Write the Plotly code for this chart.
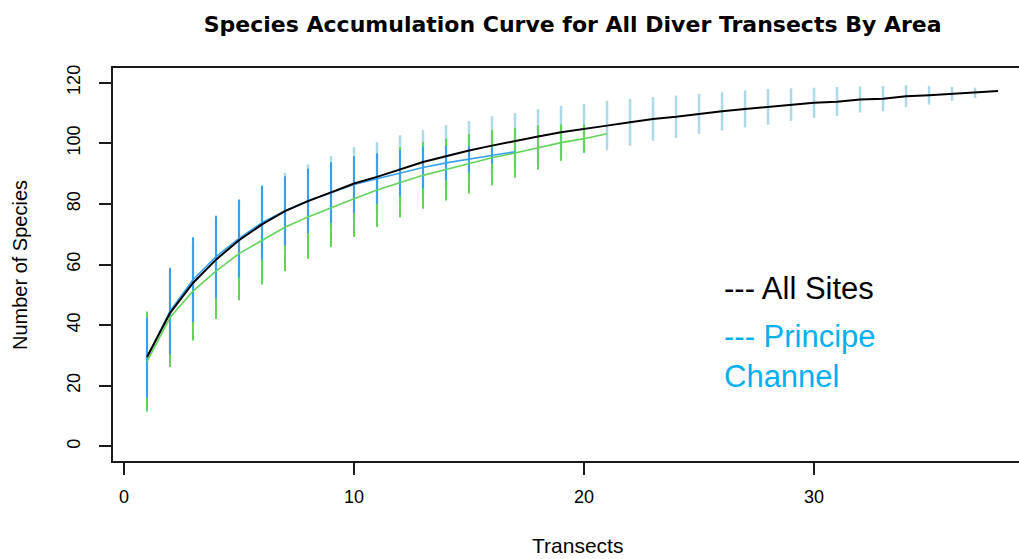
import plotly.graph_objects as go

# Species accumulation: mean species count and confidence half-width per number of transects
all_x = list(range(1, 39))
all_mean = [29.5, 44.0, 53.9, 61.6, 68.0, 73.2, 77.6, 80.9, 83.8, 86.7, 88.9, 91.4,
            93.8, 95.7, 97.6, 99.2, 100.8, 102.2, 103.6, 104.8, 105.8, 106.9, 108.0,
            108.7, 109.7, 110.5, 111.3, 112.0, 112.7, 113.3, 113.7, 114.4, 114.7,
            115.5, 115.8, 116.3, 116.6, 117.2]
all_ci = [12.5, 13.5, 13.5, 13.5, 13.0, 12.6, 12.6, 12.1, 11.9, 12.0, 11.4, 11.2,
          10.5, 10.3, 9.7, 9.7, 9.1, 9.0, 8.7, 8.1, 8.1, 7.7, 7.2, 7.0, 6.6, 6.3,
          6.1, 5.9, 5.4, 5.0, 4.8, 4.3, 4.2, 3.6, 3.1, 2.3, 1.7, 0.0]

green_x = list(range(1, 22))
green_mean = [28.0, 42.5, 51.2, 57.8, 63.6, 68.0, 72.3, 75.7, 78.8, 81.7, 84.6, 87.1,
              89.4, 91.3, 93.2, 95.2, 96.8, 98.6, 100.2, 101.5, 103.1]
green_ci = [16.5, 16.3, 16.3, 15.8, 15.4, 14.6, 14.5, 13.9, 13.0, 12.6, 12.2, 11.6,
            11.0, 10.2, 9.8, 9.1, 8.2, 7.3, 6.0, 4.6, 0.0]

blue_x = list(range(1, 18))
blue_mean = [29.2, 44.6, 55.0, 62.6, 68.6, 73.8, 77.7, 81.0, 83.7, 86.4, 88.3, 90.2,
             92.0, 93.5, 94.7, 95.9, 97.2]
blue_ci = [13.2, 14.3, 14.0, 13.5, 12.8, 12.2, 11.4, 10.6, 10.0, 9.3, 8.3, 7.5, 6.9,
           5.6, 4.3, 2.6, 0.0]

x_ticks = [0, 10, 20, 30]
y_ticks = [0, 20, 40, 60, 80, 100, 120]

LIGHTBLUE = "#ADD8E6"
GREEN = "#62D45A"
BLUE = "#3AA0EE"
FONT = "Liberation Sans, Arial, sans-serif"
TITLE_FONT = "DejaVu Sans, " + FONT

fig = go.Figure()


def ci_bars(x, mean, ci, color, thickness):
    # vertical interval bars only, no visible markers
    return go.Scatter(
        x=x, y=mean, mode="markers",
        marker=dict(size=1, color="rgba(0,0,0,0)"),
        error_y=dict(type="data", array=ci, visible=True, width=0,
                     thickness=thickness, color=color),
        hoverinfo="skip", showlegend=False,
    )


fig.add_trace(ci_bars(all_x, all_mean, all_ci, LIGHTBLUE, 2.5))
fig.add_trace(ci_bars(green_x, green_mean, green_ci, GREEN, 2))
fig.add_trace(ci_bars(blue_x, blue_mean, blue_ci, BLUE, 2))

fig.add_trace(go.Scatter(x=green_x, y=green_mean, mode="lines",
                         line=dict(color=GREEN, width=1.6), showlegend=False))
fig.add_trace(go.Scatter(x=blue_x, y=blue_mean, mode="lines",
                         line=dict(color=BLUE, width=1.6), showlegend=False))
fig.add_trace(go.Scatter(x=all_x, y=all_mean, mode="lines",
                         line=dict(color="black", width=2), showlegend=False))

fig.update_layout(
    width=1019, height=559,
    margin=dict(l=113, r=0, t=68, b=98),
    paper_bgcolor="white", plot_bgcolor="white",
    font=dict(family=FONT, color="black"),
    title=dict(text="<b>Species Accumulation Curve for All Diver Transects By Area</b>",
               x=0.562, xanchor="center", y=0.957, yanchor="middle",
               yref="container",
               font=dict(family=TITLE_FONT, size=22, color="black")),
    xaxis=dict(range=[-0.478, 38.91], tickvals=x_ticks, ticktext=[str(v) for v in x_ticks],
               showgrid=False, zeroline=False, showline=True, mirror=True,
               linecolor="#1a1a1a", linewidth=1.5, ticks="outside", ticklen=12,
               tickwidth=1.5, tickcolor="#1a1a1a", ticklabelstandoff=7,
               tickfont=dict(family=FONT, size=18)),
    yaxis=dict(range=[-4.8, 124.8], tickvals=y_ticks, ticktext=[str(v) for v in y_ticks],
               showgrid=False, zeroline=False, showline=True, mirror=False,
               linecolor="#1a1a1a", linewidth=1.5, ticks="outside", ticklen=12,
               tickwidth=1.5, tickcolor="#1a1a1a", tickangle=-90, ticklabelstandoff=12,
               tickfont=dict(family=FONT, size=18)),
    annotations=[
        dict(text="Number of Species", textangle=-90, xref="paper", yref="paper",
             x=-0.1026, y=0.4987, xanchor="center", yanchor="middle", showarrow=False,
             font=dict(family=FONT, size=20, color="black")),
        dict(text="Transects", xref="paper", yref="paper",
             x=0.513, y=-0.216, xanchor="center", yanchor="middle", showarrow=False,
             font=dict(family=FONT, size=21, color="black")),
        dict(text="--- All Sites", xref="paper", yref="paper",
             x=0.672, y=0.440, xanchor="left", yanchor="middle", showarrow=False,
             align="left", font=dict(family=FONT, size=31, color="black")),
        dict(text="--- Principe<br>Channel", xref="paper", yref="paper",
             x=0.672, y=0.265, xanchor="left", yanchor="middle", showarrow=False,
             align="left", font=dict(family=FONT, size=31, color="#00B0F0")),
    ],
)

fig.write_html("out.html")
